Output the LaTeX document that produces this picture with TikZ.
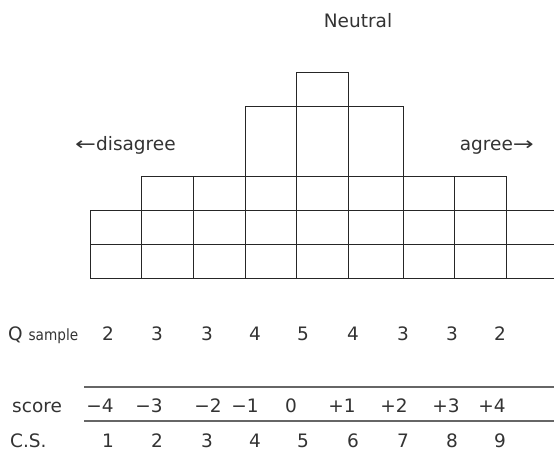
\documentclass[tikz,border=0pt]{standalone}
\usepackage{fontspec}
\setmainfont{DejaVu Sans}
\begin{document}
\begin{tikzpicture}[x=1pt,y=-1pt,
  cell/.style={draw=black!85,line width=0.9pt},
  lbl/.style={anchor=base,inner sep=0pt,text=black!80,font=\fontsize{18.5}{20}\selectfont},
  rule/.style={draw=black!60,line width=1.3pt}]
\useasboundingbox (0,0) rectangle (554,452);
% bottom two rows, all columns
\foreach \l/\r in {90/141,141/193,193/245,245/296,296/348,348/403,403/454,454/506,506/558}{
  \draw[cell] (\l,210) rectangle (\r,244);
  \draw[cell] (\l,244) rectangle (\r,278);
}
% third row, columns 2-8
\foreach \l/\r in {141/193,193/245,245/296,296/348,348/403,403/454,454/506}{
  \draw[cell] (\l,176) rectangle (\r,210);
}
% tall row, columns 4-6
\foreach \l/\r in {245/296,296/348,348/403}{
  \draw[cell] (\l,106) rectangle (\r,176);
}
% top cell
\draw[cell] (296,72) rectangle (348,106);
% labels
\node[lbl] (neutral) at (358,27.3) {Neutral};
\node[lbl,anchor=base west] (dis) at (75,150.7) {\scalebox{1.35}[1]{←}disagree};
\node[lbl,anchor=base east] (agr) at (534,150.7) {agree\scalebox{1.35}[1]{→}};
% Q sample row
\node[lbl,anchor=base west] (qs) at (8,340) {Q {\fontsize{15.5}{17}\selectfont\scalebox{0.88}[1]{sample}}};
\foreach \x/\v [count=\i] in {108/2,157/3,207/3,255/4,303/5,353/4,403/3,452/3,500/2}{
  \node[lbl] (q\i) at (\x,340) {\v};
}
% score row
\coordinate (la) at (84,387);
\coordinate (lb) at (554,387);
\coordinate (lc) at (84,421);
\coordinate (ld) at (554,421);
\draw[rule] (la) -- (lb);
\draw[rule] (lc) -- (ld);
\node[lbl,anchor=base west] (sc) at (12,412.7) {score};
\foreach \x/\v [count=\i] in {100/−4,149/−3,208/−2,245/−1,291/0,342/+1,394/+2,446/+3,492/+4}{
  \node[lbl] (s\i) at (\x,412.7) {\v};
}
\node[lbl,anchor=base west] (cs) at (10,447) {C.S.};
\foreach \x/\v [count=\i] in {108/1,157/2,207/3,255/4,303/5,353/6,403/7,452/8,500/9}{
  \node[lbl] (c\i) at (\x,447) {\v};
}
\end{tikzpicture}
\end{document}
